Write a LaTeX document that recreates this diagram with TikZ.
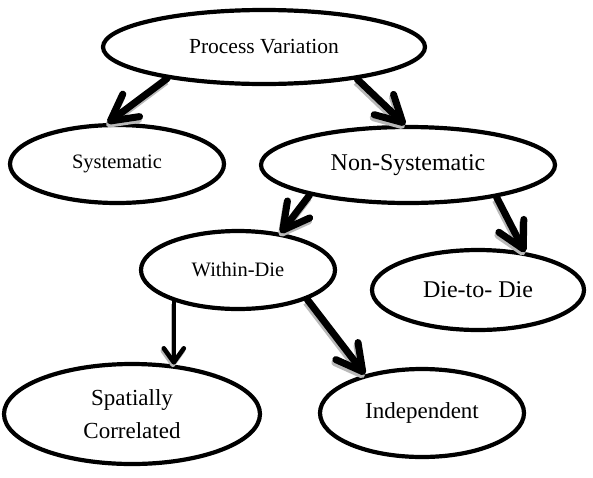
\documentclass[tikz,border=0pt]{standalone}
\usepackage{fontspec}
\setmainfont{Liberation Serif}
\usetikzlibrary{shapes.geometric,arrows.meta}
\tikzset{
  oval/.style={ellipse, draw, line width=4.2pt, inner sep=0pt, align=center},
  tipbig/.style={-{Straight Barb[length=26pt,width=28pt,round]}},
  tipsmall/.style={-{Straight Barb[length=14pt,width=20pt,round]}},
  arr/.style={line width=7pt, line cap=round, tipbig,
    preaction={draw=gray!55, line width=7pt, tipbig,
      transform canvas={shift={(-1pt,-3pt)}}}},
  thinarr/.style={line width=4.6pt, line cap=round, tipsmall,
    preaction={draw=gray!55, line width=4.6pt, tipsmall,
      transform canvas={shift={(-1pt,-2.5pt)}}}}
}
\begin{document}
\begin{tikzpicture}[x={(1pt,0)}, y={(0,-1pt)}]
\useasboundingbox (0,0) rectangle (593,477);
\node[oval, minimum width=322pt, minimum height=74pt, font=\fontsize{21.5}{25}\selectfont] (pv) at (264,47) {Process Variation};
\node[oval, minimum width=214pt, minimum height=78pt, font=\fontsize{20.5}{24}\selectfont] (sys) at (117,164) {Systematic};
\node[oval, minimum width=294pt, minimum height=76pt, font=\fontsize{24}{28}\selectfont] (ns) at (408,165) {Non-Systematic};
\node[oval, minimum width=194pt, minimum height=78pt, font=\fontsize{20.5}{24}\selectfont] (wd) at (238,270) {Within-Die};
\node[oval, minimum width=212pt, minimum height=80pt, font=\fontsize{24}{28}\selectfont] (dd) at (478,290) {Die-to- Die};
\node[oval, minimum width=256pt, minimum height=100pt, font=\fontsize{23}{33}\selectfont] (sc) at (132,414) {Spatially\\Correlated};
\node[oval, minimum width=204pt, minimum height=88pt, font=\fontsize{23}{28}\selectfont] (ind) at (422,413) {Independent};

\draw[arr] (pv.198) -- (sys.103);
\draw[arr] (pv.341) -- (ns.94);
\draw[arr] (ns.197) -- (wd.41);
\draw[arr] (ns.340) -- (dd.39);
\draw[thinarr] (wd.206) -- (wd.206 |- sc.50);
\draw[arr] (wd.337) -- (ind.146);
\end{tikzpicture}
\end{document}
